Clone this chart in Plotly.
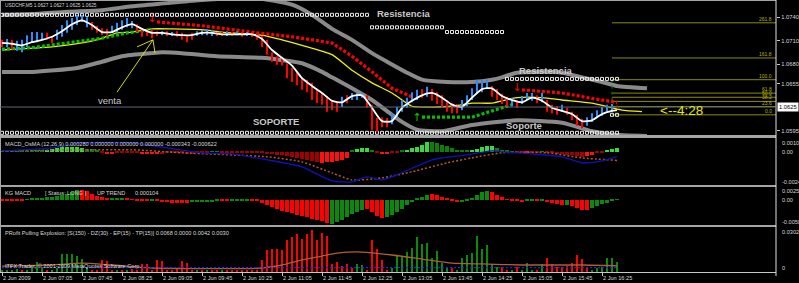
import plotly.graph_objects as go

W, H = 799, 283
FONT = "Liberation Sans, Arial, sans-serif"
PLOT_R = 776

# ---------------- data ----------------
HEADER = "USDCHF,M5 1.0627 1.0627 1.0625 1.0625"
TICK_BARS = [0, 8, 16, 24, 32, 40, 48, 56, 64, 72, 80, 88, 96, 104, 112, 120]
TICK_TEXT = ["2 Jun 2009", "2 Jun 07:05", "2 Jun 07:45", "2 Jun 08:25", "2 Jun 09:05",
             "2 Jun 09:45", "2 Jun 10:25", "2 Jun 11:05", "2 Jun 11:45", "2 Jun 12:25",
             "2 Jun 13:05", "2 Jun 13:45", "2 Jun 14:25", "2 Jun 15:05", "2 Jun 15:45",
             "2 Jun 16:25"]
PRICE_TICKS = [1.0740, 1.0710, 1.0680, 1.0655, 1.0595]
PRICE_TICK_TEXT = ["1.0740", "1.0710", "1.0680", "1.0655", "1.0595"]
LAST_PRICE = 1.0625

BAR_HIGH = [
    1.0711, 1.0712, 1.0711, 1.0710, 1.0711, 1.0717, 1.0721, 1.0721, 1.0720, 1.0720,
    1.0716, 1.0724, 1.0730, 1.0736, 1.0739, 1.0743, 1.0743, 1.0740, 1.0734, 1.0729,
    1.0726, 1.0725, 1.0729, 1.0733, 1.0736, 1.0739, 1.0735, 1.0731, 1.0726, 1.0724,
    1.0724, 1.0722, 1.0722, 1.0722, 1.0721, 1.0722, 1.0720, 1.0717, 1.0720, 1.0722,
    1.0724, 1.0725, 1.0724, 1.0721, 1.0721, 1.0722, 1.0721, 1.0722, 1.0721, 1.0721,
    1.0721, 1.0720, 1.0716, 1.0711, 1.0695, 1.0690, 1.0688, 1.0681, 1.0675, 1.0669,
    1.0662, 1.0660, 1.0656, 1.0648, 1.0643, 1.0639, 1.0634, 1.0631, 1.0638, 1.0640,
    1.0643, 1.0643, 1.0644, 1.0640, 1.0628, 1.0611, 1.0612, 1.0611, 1.0617, 1.0625,
    1.0634, 1.0637, 1.0644, 1.0647, 1.0648, 1.0651, 1.0648, 1.0644, 1.0640, 1.0634,
    1.0630, 1.0629, 1.0634, 1.0640, 1.0649, 1.0660, 1.0660, 1.0660, 1.0652, 1.0648,
    1.0642, 1.0638, 1.0637, 1.0634, 1.0639, 1.0643, 1.0643, 1.0640, 1.0643, 1.0634,
    1.0628, 1.0626, 1.0628, 1.0624, 1.0619, 1.0615, 1.0610, 1.0612, 1.0617, 1.0621,
    1.0625, 1.0628, 1.0629, 1.0627]
BAR_LOW = [
    1.0702, 1.0702, 1.0699, 1.0697, 1.0695, 1.0702, 1.0707, 1.0708, 1.0711, 1.0711,
    1.0707, 1.0711, 1.0715, 1.0720, 1.0724, 1.0730, 1.0734, 1.0727, 1.0724, 1.0720,
    1.0717, 1.0716, 1.0720, 1.0720, 1.0724, 1.0727, 1.0726, 1.0721, 1.0715, 1.0716,
    1.0713, 1.0716, 1.0717, 1.0716, 1.0716, 1.0715, 1.0711, 1.0708, 1.0711, 1.0716,
    1.0717, 1.0717, 1.0716, 1.0716, 1.0716, 1.0716, 1.0716, 1.0717, 1.0715, 1.0716,
    1.0715, 1.0711, 1.0702, 1.0692, 1.0683, 1.0679, 1.0678, 1.0662, 1.0657, 1.0653,
    1.0647, 1.0644, 1.0634, 1.0630, 1.0628, 1.0619, 1.0621, 1.0619, 1.0625, 1.0630,
    1.0634, 1.0634, 1.0637, 1.0624, 1.0596, 1.0593, 1.0599, 1.0599, 1.0603, 1.0611,
    1.0619, 1.0624, 1.0631, 1.0634, 1.0637, 1.0638, 1.0633, 1.0629, 1.0624, 1.0619,
    1.0617, 1.0617, 1.0621, 1.0626, 1.0634, 1.0643, 1.0644, 1.0648, 1.0638, 1.0634,
    1.0629, 1.0626, 1.0626, 1.0624, 1.0629, 1.0634, 1.0633, 1.0630, 1.0631, 1.0619,
    1.0617, 1.0615, 1.0619, 1.0615, 1.0608, 1.0601, 1.0598, 1.0601, 1.0606, 1.0611,
    1.0614, 1.0619, 1.0620, 1.0625]
BAR_UP = [
    0, 1, 0, 1, 1, 1, 1, 1, 1, 0,
    0, 1, 1, 1, 1, 1, 1, 1, 0, 0,
    0, 0, 1, 1, 1, 1, 1, 0, 0, 0,
    0, 0, 1, 0, 1, 0, 0, 0, 0, 1,
    1, 1, 1, 0, 0, 1, 0, 1, 0, 1,
    0, 0, 0, 0, 0, 0, 0, 0, 0, 0,
    0, 0, 0, 0, 0, 0, 0, 0, 1, 0,
    1, 1, 1, 0, 0, 0, 0, 0, 1, 1,
    1, 1, 1, 1, 0, 1, 0, 0, 0, 0,
    0, 0, 1, 1, 1, 1, 1, 1, 0, 0,
    0, 0, 1, 0, 1, 1, 1, 0, 1, 0,
    0, 0, 1, 0, 0, 0, 0, 1, 1, 1,
    1, 1, 1, 0]

MA_FAST_BARS = list(range(0, 123, 2)) + [123]
MA_FAST = [
    1.0707, 1.0706, 1.0704, 1.0708, 1.0711, 1.0715, 1.0722, 1.0731, 1.0736, 1.0730,
    1.0721, 1.0721, 1.0727, 1.0731, 1.0725, 1.0720, 1.0720, 1.0718, 1.0717, 1.0717,
    1.0720, 1.0720, 1.0718, 1.0718, 1.0718, 1.0718, 1.0712, 1.0698, 1.0688, 1.0678,
    1.0662, 1.0652, 1.0643, 1.0633, 1.0631, 1.0639, 1.0640, 1.0624, 1.0607, 1.0607,
    1.0624, 1.0633, 1.0640, 1.0643, 1.0637, 1.0628, 1.0625, 1.0637, 1.0648, 1.0649,
    1.0639, 1.0634, 1.0631, 1.0637, 1.0633, 1.0624, 1.0620, 1.0616, 1.0607, 1.0608,
    1.0616, 1.0620, 1.0621]
MA_SLOW_BARS = [0, 10, 16, 20, 23, 26, 30, 34, 40, 44, 52, 56, 60, 66, 70, 74, 78, 82, 86, 90,
                94, 98, 103, 108, 112, 118, 122, 124, 128]
MA_SLOW = [1.0698, 1.0702, 1.0707, 1.0713, 1.0720, 1.0721, 1.0725, 1.0725, 1.0724, 1.0721,
           1.0717, 1.0711, 1.0704, 1.0692, 1.0672, 1.0656, 1.0643, 1.0626, 1.0625, 1.0626,
           1.0630, 1.0630, 1.0637, 1.0637, 1.0634, 1.0630, 1.0624, 1.0621, 1.0619]
BAND_UP_BARS = [0, 6, 13, 20, 26, 33, 40, 50, 58, 62, 66, 70, 74, 77, 81, 84, 89, 94, 98, 100,
                103, 107, 112, 116, 120, 123, 129]
BAND_UP = [1.0743, 1.0744, 1.0747, 1.0749, 1.0754, 1.0758, 1.0762, 1.0765, 1.0756, 1.0743,
           1.0725, 1.0711, 1.0694, 1.0683, 1.0669, 1.0660, 1.0657, 1.0657, 1.0660, 1.0663,
           1.0669, 1.0670, 1.0669, 1.0663, 1.0657, 1.0652, 1.0649]
BAND_LO_BARS = [0, 6, 15, 20, 24, 30, 32, 36, 43, 52, 56, 60, 64, 66, 70, 74, 78, 80, 83, 88,
                94, 103, 112, 118, 122, 129]
BAND_LO = [1.0670, 1.0670, 1.0675, 1.0683, 1.0690, 1.0694, 1.0695, 1.0694, 1.0690, 1.0688,
           1.0685, 1.0681, 1.0670, 1.0663, 1.0649, 1.0634, 1.0615, 1.0606, 1.0596, 1.0594,
           1.0602, 1.0608, 1.0605, 1.0594, 1.0590, 1.0588]
DOWN_TRAIL_1_BARS = [31, 40, 51, 58, 66, 70, 74, 78, 82]
DOWN_TRAIL_1 = [1.0734, 1.0729, 1.0720, 1.0715, 1.0707, 1.0690, 1.0670, 1.0649, 1.0638]
DOWN_TRAIL_2_BARS = [104, 112, 118, 123]
DOWN_TRAIL_2 = [1.0647, 1.0643, 1.0636, 1.0631]
UP_TRAIL_1_BARS = [0, 6, 13, 20, 25, 30]
UP_TRAIL_1 = [1.0699, 1.0701, 1.0707, 1.0713, 1.0720, 1.0724]
UP_TRAIL_2_BARS = [84, 94, 98, 102]
UP_TRAIL_2 = [1.0612, 1.0612, 1.0620, 1.0628]
SELL_ARROWS = [(30, 1.0737), (103, 1.0649)]
BUY_ARROWS = [(83, 1.0611)]
# (first bar, last bar, price)
LEVEL_ROWS = [(0, 73, 1.0743), (74, 88, 1.0727), (89, 100, 1.0721), (101, 123, 1.0661),
              (0, 123, 1.0592), (122, 123, 1.0615)]
CHART_TEXT = [("Resistencia", 80.4, 1.0745, True), ("Resistencia", 108.8, 1.0672, True),
              ("Soporte", 104.4, 1.0602, True), ("SOPORTE", 54.8, 1.0606, True),
              ("venta", 21.6, 1.0634, False)]
VENTA_ARROW = [(30.2, 1.0711, 23.0, 1.0644), (30.2, 1.0711, 27.0, 1.0702),
               (30.2, 1.0711, 30.6, 1.0694)]
TIMER_TEXT = ("<--4:28", 135.8, 1.0620)
FIB_LEVELS = [0.0, 23.6, 38.2, 50.0, 61.8, 100.0, 161.8, 261.8]
FIB_0, FIB_100, FIB_BAR = 1.0615, 1.0660, 122

# MACD / OsMA (units 1e-5)
MACD_HEADER = "MACD_OsMA (12,26,9) 0.000280 0.000000 0.000000 0.000000 -0.000343 -0.000622"
MACD_RANGE = [-241, 100.7]
MACD_LABELS = ["0.001007", "0.00", "-0.00241"]
OSMA = [
    5, 5, 6, 6, 7, 7, 9, 9, 11, 15,
    18, 25, 33, 33, 33, 33, 29, 22, 18, 11,
    -7, -15, -15, -11, -11, -11, -7, -11, -15, -18,
    -18, -18, -15, -11, -11, -7, -11, -15, -15, -7,
    -4, -4, 4, 4, -4, -4, -4, -4, -4, -5,
    -5, -7, -11, -15, -18, -22, -25, -33, -40, -47,
    -55, -62, -69, -76, -80, -76, -73, -65, -58, -44,
    7, 22, 29, 29, 11, -11, -15, -15, -11, -4,
    7, 15, 25, 36, 51, 69, 69, 62, 51, 44,
    29, 15, 11, 11, 15, 22, 36, 44, 44, 29,
    15, 7, 4, -4, -7, -7, -7, -4, 4, -7,
    -11, -15, -18, -22, -25, -29, -36, -29, -25, -11,
    -4, 15, 22, 28]
OSMA_STATE = ("gggggggggG" "GGGGGGGggg" "rRRrrrrrRR" "RRrrrrrrrr" "rrggrrrrrr"
              "rrrrrrrrrr" "rrrrRRRRRR" "gGGGgrRRrr" "gGGGGGgggg" "ggggGGGGGg"
              "gggrrRrrgr" "rrrrrrrRRr" "rGGG")
MACD_MAIN_BARS = [0, 10, 16, 26, 33, 40, 46, 53, 60, 66, 70, 73, 76, 79, 86, 88, 93, 98, 100,
                  106, 112, 116, 119, 123]
MACD_MAIN = [7, 29, 65, 65, 29, -7, -15, -58, -109, -211, -218, -182, -204, -167, -58, -44,
             -22, 7, 0, -15, -36, -80, -73, -34]
MACD_SIG_BARS = [0, 26, 36, 53, 60, 66, 70, 76, 82, 89, 94, 100, 109, 116, 123]
MACD_SIG = [7, 15, -7, -36, -73, -153, -204, -189, -145, -80, -44, -7, -7, -44, -62]

# KG MACD (units 1e-5)
KG_RANGE = [-506.8, 250.2]
KG_LABELS = ["0.002502", "0.00", "-0.005068"]
KG = [
    -20, -20, -20, -10, -10, 10, 20, 30, 40, 50,
    60, 70, 90, 120, 160, 200, 200, 180, 120, 80,
    50, 30, 20, 30, 30, 20, 10, -10, -20, -30,
    -30, -30, -40, -50, -60, -60, -60, -60, -50, -40,
    -40, -40, -40, -30, -30, -30, -30, -30, -20, -20,
    -20, -30, -60, -100, -140, -180, -220, -240, -260, -300,
    -320, -340, -380, -400, -420, -460, -480, -440, -400, -340,
    -280, -240, -200, -180, -240, -320, -360, -340, -300, -240,
    -180, -100, -40, 20, 60, 100, 120, 100, 60, 30,
    -20, -50, -40, -10, 40, 100, 150, 180, 160, 100,
    50, 10, -20, -30, -50, -20, -20, -20, -20, -40,
    -70, -90, -100, -100, -120, -160, -200, -200, -160, -120,
    -80, -60, -10, 10]
KG_STATE = ("RRRRRGGGGG" "GGGGGGRRRR" "RRGGGRRRRR" "GRRRRRRRGG" "GGGGRRGGGG"
            "RRRRRRRRRR" "RRRRRRGGGG" "GGGRRRRGGG" "GGGGGGRRRR" "RRGGGGGGRR"
            "RRRRRGGRGR" "RRRGRRRRGG" "GGGG")

# Profit Pulling Explosion (units 1e-4)
PROFIT_HEADER = "PRofit Pulling Explosion: [S(150) - DZ(30) - EP(15) - TP(15)] 0.0068 0.0000 0.0042 0.0030"
PROFIT_RANGE = [0, 302]
PROFIT_LABELS = ["0.0302", "0"]
PROFIT = [
    10, 8, 10, 23, 10, 10, 34, 67, 34, 10,
    10, 27, 121, 121, 121, 107, 87, 27, 10, 10,
    80, 74, 10, 8, 10, 10, 23, 10, 54, 54,
    10, 80, 74, 10, 10, 23, 74, 60, 10, 10,
    10, 8, 10, 8, 10, 8, 8, 10, 8, 10,
    8, 10, 80, 147, 154, 154, 147, 214, 235, 255,
    221, 255, 281, 214, 261, 241, 54, 67, 40, 54,
    27, 54, 47, 10, 214, 154, 80, 10, 27, 114,
    101, 134, 161, 235, 188, 194, 94, 141, 60, 34,
    27, 8, 94, 114, 127, 241, 154, 181, 54, 34,
    34, 10, 10, 34, 10, 60, 10, 10, 54, 94,
    54, 34, 34, 40, 60, 114, 87, 27, 10, 27,
    34, 94, 94, 68]
PROFIT_STATE = ("GGGGRGGGGR" "GGGGGGGGRR" "RRRGRGRRRR" "RRRRRRRRRG" "RGRRGRRRRR"
                "RRRRRRRRRR" "RRRRRRRRRR" "RGGRRRRRGG" "GGGGGGGGGG" "RGGGGGGGGG"
                "RRGRGGGRGR" "RRRRRRRRGG" "GGGG")
PROFIT_MA_BARS = [0, 10, 16, 22, 30, 40, 50, 52, 56, 60, 64, 67, 72, 78, 84, 90, 96, 104, 116, 123]
PROFIT_MA = [40, 47, 60, 47, 27, 23, 23, 27, 47, 81, 107, 127, 134, 114, 87, 60, 54, 47, 47, 42]
PROFIT_LVL_BARS = [0, 123]
PROFIT_LVL = [30, 30]

KG_HEAD = ["KG MACD", "[ Status: LONG ]", "UP TREND", "0.000104"]
COPYRIGHT = "ITFX Trader, © 2001-2009 MetaQuotes Software Corp."

# ---------------- layout helpers (pixels) ----------------
def py(p):
    return 1 - p / H

XR = PLOT_R / W
P_MAIN, P_MACD, P_KG, P_PROF = (0, 135), (138, 185), (187, 225), (227, 272)
bars = list(range(len(BAR_HIGH)))

fig = go.Figure()

def line(xs, ys, color, width, yaxis="y", dash=None, shape="spline"):
    fig.add_trace(go.Scatter(x=xs, y=ys, mode="lines", yaxis=yaxis, hoverinfo="skip",
                             line=dict(color=color, width=width, dash=dash, shape=shape,
                                       smoothing=0.6 if shape == "spline" else None)))

# bands
line(BAND_UP_BARS, BAND_UP, "#8a8a8a", 4)
line(BAND_LO_BARS, BAND_LO, "#8a8a8a", 4)

# fib levels
rng = FIB_100 - FIB_0
for lv in FIB_LEVELS:
    pr = FIB_0 + rng * lv / 100.0
    line([FIB_BAR, 154.8], [pr, pr], "#8c8c00", 1, shape="linear")
line([FIB_BAR, FIB_BAR], [FIB_100, FIB_0], "#008800", 1, dash="dot", shape="linear")

# level rows (x marks)
for b0, b1, pr in LEVEL_ROWS:
    xs = list(range(b0, b1 + 1))
    fig.add_trace(go.Scatter(x=xs, y=[pr] * len(xs), mode="markers", hoverinfo="skip",
                             marker=dict(symbol="square-open", size=3, color="#e8e8e8",
                                         line=dict(width=1, color="#e8e8e8"))))

# slow MA, trailing dots
line(MA_SLOW_BARS, MA_SLOW, "#f0f000", 1.3)
line(DOWN_TRAIL_1_BARS, DOWN_TRAIL_1, "#ff0000", 3.2, dash="3px,2px", shape="linear")
line(DOWN_TRAIL_2_BARS, DOWN_TRAIL_2, "#ff0000", 3.2, dash="3px,2px", shape="linear")
line(UP_TRAIL_1_BARS, UP_TRAIL_1, "#00c000", 3.2, dash="3px,2px", shape="linear")
line(UP_TRAIL_2_BARS, UP_TRAIL_2, "#00c000", 3.2, dash="3px,2px", shape="linear")

# price bars
for flag, col in ((1, "#2a8cff"), (0, "#ff0000")):
    xs, ys = [], []
    for i in bars:
        if BAR_UP[i] == flag:
            xs += [i, i, None]
            ys += [BAR_LOW[i], BAR_HIGH[i], None]
    fig.add_trace(go.Scatter(x=xs, y=ys, mode="lines", hoverinfo="skip",
                             line=dict(color=col, width=2)))

# fast MA
line(MA_FAST_BARS, MA_FAST, "#ffffff", 1.8)

# signal arrows
fig.add_trace(go.Scatter(x=[a[0] for a in SELL_ARROWS], y=[a[1] for a in SELL_ARROWS],
                         mode="text", text=["↓"] * len(SELL_ARROWS), hoverinfo="skip",
                         textfont=dict(color="#ff0000", size=11, family="DejaVu Sans")))
fig.add_trace(go.Scatter(x=[a[0] for a in BUY_ARROWS], y=[a[1] for a in BUY_ARROWS],
                         mode="text", text=["↑"] * len(BUY_ARROWS), hoverinfo="skip",
                         textfont=dict(color="#00d000", size=11, family="DejaVu Sans")))

# ---- MACD panel ----
ccol = {"G": "#3ad83a", "g": "#0a7f0a", "R": "#ff1010", "r": "#a00000"}
fig.add_trace(go.Bar(x=bars, y=OSMA, yaxis="y2", width=0.9, hoverinfo="skip",
                     marker=dict(color=[ccol[c] for c in OSMA_STATE], line=dict(width=0))))
line(MACD_SIG_BARS, MACD_SIG, "#b05a1a", 1.5, yaxis="y2", dash="2px,2px")
line(MACD_MAIN_BARS, MACD_MAIN, "#1010c0", 1.3, yaxis="y2")

# ---- KG MACD ----
kcol = {"G": "#0a8a0a", "R": "#ff0000"}
fig.add_trace(go.Bar(x=bars, y=KG, yaxis="y3", width=0.78, hoverinfo="skip",
                     marker=dict(color=[kcol[c] for c in KG_STATE], line=dict(width=0))))

# ---- Profit ----
fig.add_trace(go.Bar(x=bars, y=PROFIT, yaxis="y4", width=0.4, hoverinfo="skip",
                     marker=dict(color=[kcol[c] for c in PROFIT_STATE], line=dict(width=0))))
line(PROFIT_MA_BARS, PROFIT_MA, "#b06028", 1.3, yaxis="y4")
line(PROFIT_LVL_BARS, PROFIT_LVL, "#2020ff", 1.2, yaxis="y4", dash="2px,2px", shape="linear")

# ---------------- layout ----------------
hidden = dict(visible=False, showgrid=False, zeroline=False, fixedrange=True)
fig.update_layout(
    width=W, height=H, margin=dict(l=0, r=0, t=0, b=0),
    paper_bgcolor="#000000", plot_bgcolor="#000000", showlegend=False,
    barmode="overlay", bargap=0,
    font=dict(family=FONT, color="#d8d8d8"),
    xaxis=dict(domain=[0, XR], range=[-0.4, 154.8], anchor="y4", showgrid=False,
               zeroline=False, showline=True, linecolor="#c8c8c8", linewidth=1,
               tickmode="array", tickvals=TICK_BARS, ticktext=TICK_TEXT,
               ticks="outside", ticklen=3, tickcolor="#c8c8c8",
               ticklabelposition="outside right",
               tickfont=dict(size=5.6, color="#d8d8d8", family=FONT)),
    yaxis=dict(domain=[py(P_MAIN[1]), py(P_MAIN[0])], range=[1.05892, 1.0762],
               anchor="x", side="right", showgrid=False, zeroline=False,
               tickmode="array", tickvals=PRICE_TICKS, ticktext=PRICE_TICK_TEXT,
               ticks="outside", ticklen=3, tickcolor="#c8c8c8",
               tickfont=dict(size=5.8, color="#d8d8d8", family=FONT)),
    yaxis2=dict(domain=[py(P_MACD[1]), py(P_MACD[0])], range=MACD_RANGE, anchor="x", **hidden),
    yaxis3=dict(domain=[py(P_KG[1]), py(P_KG[0])], range=KG_RANGE, anchor="x", **hidden),
    yaxis4=dict(domain=[py(P_PROF[1]), py(P_PROF[0])], range=PROFIT_RANGE, anchor="x", **hidden),
)

shapes = []
# separators & borders
for (y0, y1) in ((135, 138), (185, 187), (225, 227)):
    shapes.append(dict(type="rect", xref="paper", yref="paper", x0=0, x1=XR,
                       y0=py(y1), y1=py(y0), fillcolor="#a4a4a4", line=dict(width=0)))
shapes.append(dict(type="line", xref="paper", yref="paper", x0=0, x1=XR,
                   y0=py(0.5), y1=py(0.5), line=dict(color="#a4a4a4", width=1)))
shapes.append(dict(type="line", xref="paper", yref="paper", x0=0.5 / W, x1=0.5 / W,
                   y0=py(272), y1=py(0), line=dict(color="#a4a4a4", width=1)))
shapes.append(dict(type="line", xref="paper", yref="paper", x0=XR, x1=XR,
                   y0=py(276), y1=py(0), line=dict(color="#e0e0e0", width=1)))
# last price line
shapes.append(dict(type="line", xref="paper", yref="y", x0=0, x1=XR, y0=LAST_PRICE,
                   y1=LAST_PRICE, line=dict(color="#5c6870", width=1)))
# hand-drawn arrow
for x0, y0, x1, y1 in VENTA_ARROW:
    shapes.append(dict(type="line", xref="x", yref="y", x0=x0, y0=y0, x1=x1, y1=y1,
                       line=dict(color="#d8d800", width=1)))
fig.update_layout(shapes=shapes)

ann = []
def txt(t, x, y, size, color="#d8d8d8", xanchor="left", xref="paper", yref="paper",
        bold=False, **kw):
    ann.append(dict(text=("<b>%s</b>" % t) if bold else t, x=x, y=y, xref=xref, yref=yref,
                    showarrow=False, xanchor=xanchor, yanchor="middle",
                    font=dict(size=size, color=color, family=FONT), **kw))

txt(HEADER, 3 / W, py(5), 4.8)
txt(MACD_HEADER, 3 / W, py(144), 5.6)
kg_x = [3, 43, 95, 133]
for t, xp in zip(KG_HEAD, kg_x):
    txt(t, xp / W, py(193), 5.6)
txt(PROFIT_HEADER, 3 / W, py(233), 5.6)
txt(COPYRIGHT, 3 / W, py(266), 5.6)

for t, yp in zip(MACD_LABELS, (143, 152, 182)):
    txt(t, 780 / W, py(yp), 5.6)
for t, yp in zip(KG_LABELS, (190.5, 200, 221.7)):
    txt(t, 780 / W, py(yp), 5.6)
for t, yp in zip(PROFIT_LABELS, (232, 268)):
    txt(t, 780 / W, py(yp), 5.6)

txt("%.4f" % LAST_PRICE, 777 / W, LAST_PRICE, 5.8, color="#000000", yref="y",
    bgcolor="#ffffff", borderpad=1)

for t, bx, pr, b in CHART_TEXT:
    txt(t, bx, pr, 9.5, color="#c8c8c8", xanchor="center", xref="x", yref="y", bold=b)
txt(TIMER_TEXT[0], TIMER_TEXT[1], TIMER_TEXT[2], 13.5, color="#e8e800", xanchor="center",
    xref="x", yref="y")

for lv in FIB_LEVELS:
    pr = FIB_0 + rng * lv / 100.0
    ann.append(dict(text="%.1f" % lv, x=XR - 2 / W, y=pr, xref="paper", yref="y",
                    showarrow=False, xanchor="right", yanchor="bottom", yshift=-1,
                    font=dict(size=5, color="#b4b400", family=FONT)))

fig.update_layout(annotations=ann)
fig.write_html("out.html")
